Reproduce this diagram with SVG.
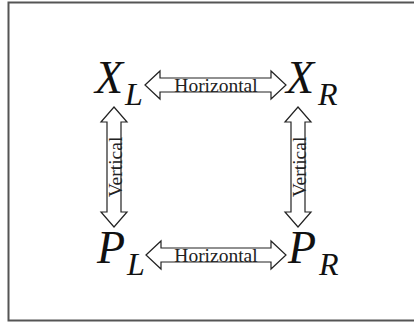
<svg xmlns="http://www.w3.org/2000/svg" width="414" height="323" viewBox="0 0 414 323">
<style>
.frame{fill:none;stroke:#555;stroke-width:2}
.arrow{fill:#fff;stroke:#222;stroke-width:1.2;stroke-linejoin:miter}
.var{font-family:"Liberation Serif","Times New Roman",serif;font-style:italic;fill:#111}
.big{font-size:46px}
.sub{font-size:32px}
.lbl{font-family:"Liberation Serif","Times New Roman",serif;font-size:19.5px;fill:#222;text-anchor:middle}
</style>
<rect class="frame" x="8.5" y="2.5" width="420" height="318"/>
<g id="connectors">
  <g id="h-top">
    <path class="arrow" d="M145,85 L160,71 L160,78 L271,78 L271,71 L286,85 L271,99 L271,92 L160,92 L160,99 Z"/>
    <text class="lbl" x="216" y="91.5">Horizontal</text>
  </g>
  <g id="h-bottom">
    <path class="arrow" d="M146,255 L161,241 L161,248 L271,248 L271,241 L286,255 L271,269 L271,262 L161,262 L161,269 Z"/>
    <text class="lbl" x="216" y="261.5">Horizontal</text>
  </g>
  <g id="v-left">
    <path class="arrow" d="M114,107 L127,122 L121,122 L121,212 L127,212 L114,227 L101,212 L107,212 L107,122 L101,122 Z"/>
    <text class="lbl" transform="translate(121.5,167) rotate(-90)">Vertical</text>
  </g>
  <g id="v-right">
    <path class="arrow" d="M298,107 L311,122 L305,122 L305,212 L311,212 L298,227 L285,212 L291,212 L291,122 L285,122 Z"/>
    <text class="lbl" transform="translate(305.5,167) rotate(-90)">Vertical</text>
  </g>
</g>
<g id="XL"><text class="var big" x="95" y="93">X</text><text class="var sub" x="125" y="105">L</text></g>
<g id="XR"><text class="var big" x="286" y="93">X</text><text class="var sub" x="318" y="105">R</text></g>
<g id="PL"><text class="var big" x="97" y="263">P</text><text class="var sub" x="127" y="275">L</text></g>
<g id="PR"><text class="var big" x="288" y="263">P</text><text class="var sub" x="319" y="275">R</text></g>
</svg>
